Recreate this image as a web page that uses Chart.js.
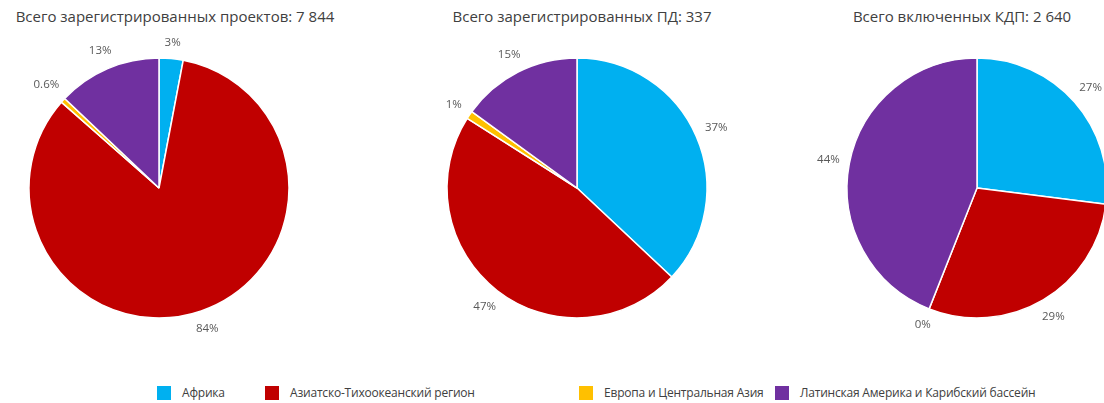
<!DOCTYPE html>
<html>
<head>
<meta charset="utf-8">
<script src="https://cdn.jsdelivr.net/npm/chart.js@4.4.1/dist/chart.umd.min.js"></script>
<style>
    html, body { margin: 0; padding: 0; background: #fff; }
    body { position: relative; width: 1104px; height: 403px; overflow: hidden; font-family: "Open Sans", sans-serif; }
    .pie-box { position: absolute; width: 320px; height: 320px; top: 28px; }
    .pie-title { position: absolute; top: 6px; font-size: 15px; color: #404040; white-space: nowrap; transform: translateX(-50%); }
    .legend-item { position: absolute; top: 385px; height: 15px; display: flex; align-items: center; font-size: 12px; letter-spacing: -0.2px; color: #404040; white-space: nowrap; }
    .legend-item .sw { width: 14px; height: 14px; display: inline-block; margin-right: 11px; }
</style>
</head>
<body>
<div id="root"></div>
<script>
// Дані
const REGIONS = ['Африка', 'Азиатско-Тихоокеанский регион', 'Европа и Центральная Азия', 'Латинская Америка и Карибский бассейн'];
const REGION_COLORS = ['#00B0F0', '#C00000', '#FFC000', '#7030A0'];
const TITLES = ['Всего зарегистрированных проектов: 7 844', 'Всего зарегистрированных ПД: 337', 'Всего включенных КДП: 2 640'];
const PROJECTS_PCT = [3, 84, 0.6, 13];
const POA_PCT = [37, 47, 1, 15];
const CPA_PCT = [27, 29, 0, 44];

// Розкладка
const PIE_CENTERS = [159, 577, 977];
const TITLE_CENTERS = [175, 582, 962];
const LEGEND_LEFT = [157, 265, 579, 775];

// Підписи відсотків зовні сектора
const outsideLabels = {
    id: 'outsideLabels',
    afterDatasetsDraw(chart) {
        const ctx = chart.ctx;
        const meta = chart.getDatasetMeta(0);
        const values = chart.data.datasets[0].data;
        ctx.save();
        ctx.font = '11.5px "Open Sans"';
        ctx.fillStyle = '#595959';
        ctx.textAlign = 'center';
        ctx.textBaseline = 'middle';
        meta.data.forEach((arc, i) => {
            const p = arc.getProps(['x', 'y', 'startAngle', 'endAngle', 'outerRadius'], true);
            const mid = (p.startAngle + p.endAngle) / 2;
            const text = values[i] + '%';
            const w = ctx.measureText(text).width;
            const d = p.outerRadius + 9 + Math.abs(Math.cos(mid)) * w / 2 + Math.abs(Math.sin(mid)) * 6;
            ctx.fillText(text, p.x + Math.cos(mid) * d, p.y + Math.sin(mid) * d);
        });
        ctx.restore();
    }
};

const root = document.getElementById('root');

[PROJECTS_PCT, POA_PCT, CPA_PCT].forEach((values, k) => {
    const title = document.createElement('div');
    title.className = 'pie-title';
    title.style.left = TITLE_CENTERS[k] + 'px';
    title.textContent = TITLES[k];
    root.appendChild(title);

    const box = document.createElement('div');
    box.className = 'pie-box';
    box.style.left = (PIE_CENTERS[k] - 160) + 'px';
    const canvas = document.createElement('canvas');
    box.appendChild(canvas);
    root.appendChild(box);

    new Chart(canvas, {
        type: 'pie',
        data: {
            labels: REGIONS,
            datasets: [{
                data: values,
                backgroundColor: REGION_COLORS,
                borderColor: '#fff',
                borderWidth: 1.5,
                radius: 130
            }]
        },
        options: {
            responsive: true,
            maintainAspectRatio: false,
            animation: false,
            events: [],
            layout: { padding: 0 },
            plugins: {
                legend: { display: false },
                tooltip: { enabled: false }
            }
        },
        plugins: [outsideLabels]
    });
});

// Легенда
REGIONS.forEach((name, i) => {
    const item = document.createElement('div');
    item.className = 'legend-item';
    item.style.left = LEGEND_LEFT[i] + 'px';
    item.innerHTML = `<span class="sw" style="background:${REGION_COLORS[i]}"></span><span>${name}</span>`;
    root.appendChild(item);
});
</script>
</body>
</html>
